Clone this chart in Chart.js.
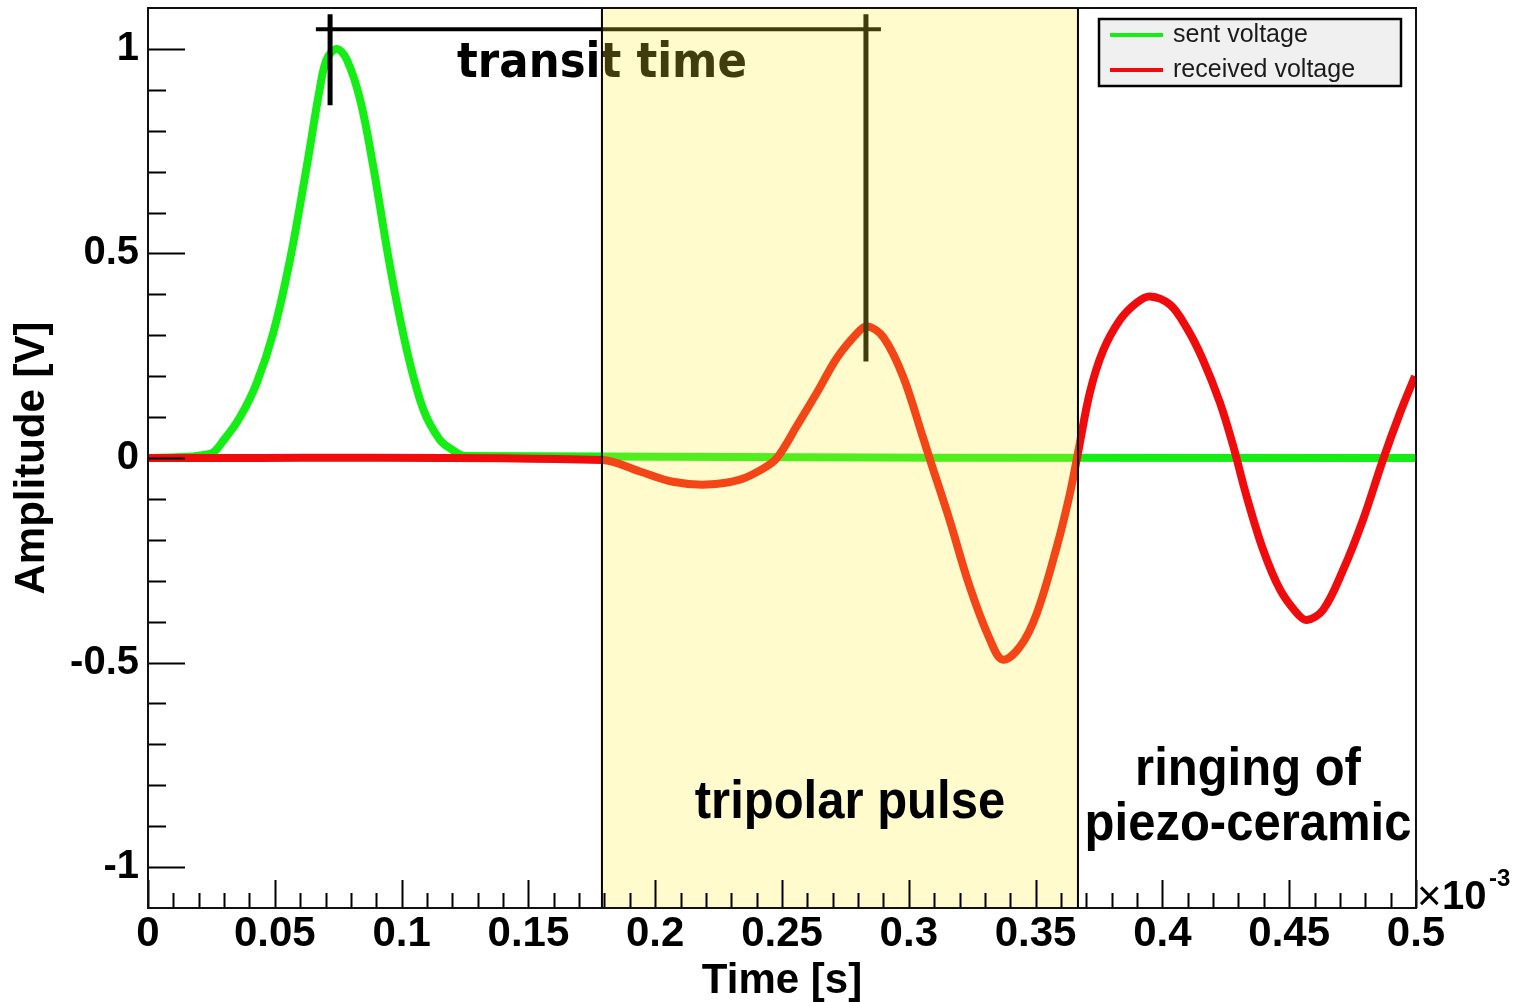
<!DOCTYPE html>
<html>
<head>
<meta charset="utf-8">
<script src="https://cdn.jsdelivr.net/npm/chart.js@4.4.1/dist/chart.umd.min.js"></script>
<style>
    html, body { margin: 0; padding: 0; background: #fff; }
</style>
</head>
<body>
<canvas id="graficoPulso" width="1519" height="1002"></canvas>
<script>
// eixos
const valoresEixoX = [0, 0.05, 0.1, 0.15, 0.2, 0.25, 0.3, 0.35, 0.4, 0.45, 0.5];
const rotulosEixoX = ['0', '0.05', '0.1', '0.15', '0.2', '0.25', '0.3', '0.35', '0.4', '0.45', '0.5'];
const valoresEixoY = [-1, -0.5, 0, 0.5, 1];
const rotulosEixoY = ['-1', '-0.5', '0', '0.5', '1'];

const nomesSeries = ['sent voltage', 'received voltage'];

// sent voltage (tempo em 10^-3 s, amplitude em V)
const tempoEnviado = [0, 0.0244, 0.030, 0.0363, 0.0429, 0.0494, 0.056, 0.0626, 0.0678, 0.0705, 0.0744,
    0.0783, 0.0836, 0.0888, 0.0954, 0.102, 0.1086, 0.115, 0.120, 0.125, 0.5];
const tensaoEnviada = [0, 0.01, 0.045, 0.10, 0.184, 0.306, 0.485, 0.713, 0.905, 0.975, 1.0,
    0.975, 0.877, 0.713, 0.469, 0.265, 0.118, 0.045, 0.02, 0.005, 0];

// received voltage
const tempoRecebido = [0, 0.179, 0.194, 0.207, 0.2204, 0.2334, 0.2425, 0.248, 0.256, 0.2638, 0.2717,
    0.2796, 0.2835, 0.29, 0.2977, 0.3056, 0.3084, 0.316, 0.324, 0.332, 0.337, 0.344, 0.3505, 0.3584,
    0.3636, 0.3667, 0.3714, 0.3766, 0.3833, 0.3899, 0.395, 0.403, 0.4096, 0.416, 0.4227, 0.4279,
    0.4332, 0.4397, 0.4464, 0.453, 0.4569, 0.4634, 0.4713, 0.4791, 0.487, 0.4937, 0.4996];
const tensaoRecebida = [0, -0.005, -0.033, -0.058, -0.065, -0.053, -0.026, 0.0, 0.08, 0.16, 0.245,
    0.305, 0.322, 0.295, 0.20, 0.05, -0.005, -0.15, -0.314, -0.444, -0.493, -0.46, -0.379, -0.216,
    -0.085, 0.012, 0.16, 0.262, 0.338, 0.38, 0.395, 0.375, 0.318, 0.24, 0.135, 0.03,
    -0.094, -0.224, -0.322, -0.379, -0.396, -0.371, -0.273, -0.151, -0.004, 0.11, 0.2];

// regiao do pulso tripolar e marca do tempo de transito
const inicioPulso = 0.179;
const fimPulso = 0.3667;
const transitoInicio = 0.0718;
const transitoFim = 0.2831;

const VERDE = 'rgb(20,238,20)';
const VERMELHO = 'rgb(240,12,12)';
const FONTE = "'Liberation Sans', Arial, sans-serif";

function pontos(xs, ys) {
    return xs.map((x, i) => ({ x: x, y: ys[i] }));
}

function escreve(ctx, txt, x, y, fonte, escalaY, alinhamento, cor) {
    ctx.save();
    ctx.translate(x, y);
    ctx.scale(1, escalaY);
    ctx.font = fonte;
    ctx.textAlign = alinhamento;
    ctx.textBaseline = 'alphabetic';
    ctx.fillStyle = cor || '#000';
    ctx.fillText(txt, 0, 0);
    ctx.restore();
}

const anotacoes = {
    id: 'anotacoes',
    beforeDraw(chart) {
        const ctx = chart.ctx;
        ctx.save();
        ctx.fillStyle = '#fff';
        ctx.fillRect(0, 0, chart.width, chart.height);
        ctx.restore();
    },
    afterDatasetsDraw(chart) {
        const { ctx, chartArea: a, scales } = chart;
        const px = v => scales.x.getPixelForValue(v);
        const py = v => scales.y.getPixelForValue(v);
        ctx.save();

        // tempo de transito
        ctx.strokeStyle = '#000';
        ctx.lineWidth = 4;
        ctx.beginPath();
        ctx.moveTo(px(0.0662), py(1.048));
        ctx.lineTo(px(0.289), py(1.048));
        ctx.stroke();
        ctx.lineWidth = 5;
        ctx.beginPath();
        ctx.moveTo(px(transitoInicio), py(1.085));
        ctx.lineTo(px(transitoInicio), py(0.862));
        ctx.moveTo(px(transitoFim), py(1.085));
        ctx.lineTo(px(transitoFim), py(0.236));
        ctx.stroke();
        escreve(ctx, 'transit time', 602, 77, "bold 43.5px 'DejaVu Sans', sans-serif", 1.12, 'center');

        // caixa amarela (translucida por cima das curvas)
        const x0 = px(inicioPulso), x1 = px(fimPulso);
        ctx.fillStyle = 'rgba(255,240,50,0.25)';
        ctx.fillRect(x0, a.top, x1 - x0, a.bottom - a.top);
        ctx.strokeStyle = '#000';
        ctx.lineWidth = 2;
        ctx.beginPath();
        ctx.moveTo(x0, a.top); ctx.lineTo(x0, a.bottom);
        ctx.moveTo(x1, a.top); ctx.lineTo(x1, a.bottom);
        ctx.stroke();

        escreve(ctx, 'tripolar pulse', (x0 + x1) / 2 + 10, 818, 'bold 49px ' + FONTE, 1.1, 'center');
        escreve(ctx, 'ringing of', 1248, 785, 'bold 49px ' + FONTE, 1.1, 'center');
        escreve(ctx, 'piezo-ceramic', 1248, 840, 'bold 49px ' + FONTE, 1.1, 'center');

        // marcas dos eixos (para dentro)
        ctx.strokeStyle = '#000';
        ctx.lineWidth = 2;
        ctx.beginPath();
        for (let i = -11; i <= 11; i++) {
            const y = Math.round(py(i / 10)) + 0.5;
            const len = (i % 5 === 0) ? 37 : 18;
            if (y < a.top + 2 || y > a.bottom - 2) continue;
            ctx.moveTo(a.left, y);
            ctx.lineTo(a.left + len, y);
        }
        for (let i = 0; i <= 50; i++) {
            const x = Math.round(px(i / 100)) + 0.5;
            const len = (i % 5 === 0) ? 28 : 15;
            ctx.moveTo(x, a.bottom);
            ctx.lineTo(x, a.bottom - len);
        }
        ctx.stroke();

        // moldura
        ctx.lineWidth = 2;
        ctx.strokeStyle = '#111';
        ctx.strokeRect(a.left, a.top, a.right - a.left, a.bottom - a.top);

        // legenda
        ctx.fillStyle = '#f0f0f0';
        ctx.fillRect(1099, 19, 302, 67);
        ctx.strokeStyle = '#000';
        ctx.lineWidth = 2.5;
        ctx.strokeRect(1099, 19, 302, 67);
        const cores = [VERDE, VERMELHO];
        nomesSeries.forEach((nome, i) => {
            const y = 35 + i * 35;
            ctx.strokeStyle = cores[i];
            ctx.lineWidth = 4;
            ctx.beginPath();
            ctx.moveTo(1110, y);
            ctx.lineTo(1163, y);
            ctx.stroke();
            ctx.fillStyle = '#1a1a1a';
            ctx.font = '25px ' + FONTE;
            ctx.textAlign = 'left';
            ctx.textBaseline = 'middle';
            ctx.fillText(nome, 1173, y);
        });

        // fator de escala do eixo x
        ctx.fillStyle = '#000';
        ctx.textBaseline = 'alphabetic';
        ctx.textAlign = 'left';
        ctx.font = '42px ' + FONTE;
        ctx.fillText('\u00d7', 1417, 910);
        ctx.font = 'bold 40px ' + FONTE;
        ctx.fillText('10', 1442, 909);
        ctx.font = 'bold 24px ' + FONTE;
        ctx.fillText('-3', 1489, 886);

        ctx.restore();
    }
};

const fonteTicks = { family: FONTE, size: 42, weight: 'bold' };

function semSobra(s) {
    s.paddingTop = 0;
    s.paddingBottom = 0;
    s.paddingLeft = 0;
    s.paddingRight = 0;
}

new Chart(document.getElementById('graficoPulso'), {
    type: 'line',
    data: {
        datasets: [{
            label: nomesSeries[1],
            data: pontos(tempoRecebido, tensaoRecebida),
            borderColor: VERMELHO,
            borderWidth: 8,
            pointRadius: 0,
            tension: 0.35,
            order: 0
        }, {
            label: nomesSeries[0],
            data: pontos(tempoEnviado, tensaoEnviada),
            borderColor: VERDE,
            borderWidth: 8,
            pointRadius: 0,
            tension: 0.35,
            order: 1
        }]
    },
    options: {
        responsive: false,
        animation: false,
        layout: { padding: { top: 8, right: 103, left: 0, bottom: 0 } },
        plugins: { legend: { display: false }, tooltip: { enabled: false } },
        scales: {
            x: {
                type: 'linear',
                min: 0,
                max: 0.5,
                grid: { display: false, drawTicks: false },
                border: { display: false },
                afterBuildTicks: s => { s.ticks = valoresEixoX.map(v => ({ value: v })); },
                afterFit: s => { s.height = 94; semSobra(s); },
                ticks: {
                    font: fonteTicks,
                    color: '#000',
                    padding: 1,
                    maxRotation: 0,
                    autoSkip: false,
                    callback: v => rotulosEixoX[valoresEixoX.indexOf(v)]
                },
                title: {
                    display: true,
                    text: 'Time [s]',
                    color: '#000',
                    font: { family: FONTE, size: 42, weight: 'bold', lineHeight: 1 },
                    padding: { top: 1, bottom: 0 }
                }
            },
            y: {
                type: 'linear',
                min: -1.1,
                max: 1.1,
                grid: { display: false, drawTicks: false },
                border: { display: false },
                afterBuildTicks: s => { s.ticks = valoresEixoY.map(v => ({ value: v })); },
                afterFit: s => { s.width = 148; semSobra(s); },
                ticks: {
                    font: { family: FONTE, size: 40, weight: 'bold' },
                    color: '#000',
                    padding: 9,
                    callback: v => rotulosEixoY[valoresEixoY.indexOf(v)]
                },
                title: {
                    display: true,
                    text: 'Amplitude [V]',
                    color: '#000',
                    font: { family: FONTE, size: 42, weight: 'bold', lineHeight: 1 },
                    padding: { top: 11, bottom: 0 }
                }
            }
        }
    },
    plugins: [anotacoes]
});
</script>
</body>
</html>
